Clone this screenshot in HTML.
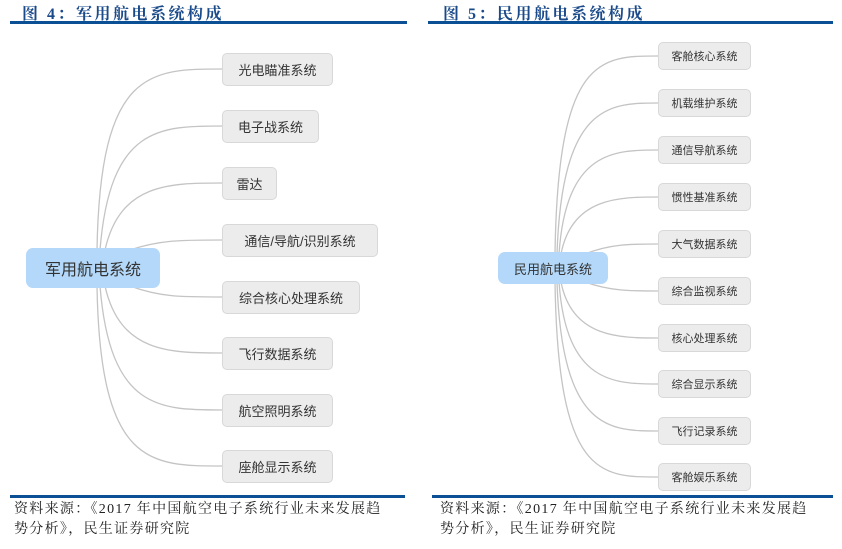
<!DOCTYPE html>
<html><head><meta charset="utf-8"><style>
body{margin:0;width:842px;height:549px;background:#fff;position:relative;overflow:hidden;font-family:"Liberation Sans","Noto Sans CJK SC",sans-serif}
.t{position:absolute;top:1px;font-size:16px;font-weight:bold;color:#1a4a8a;letter-spacing:2.5px;font-family:"Liberation Serif","Noto Serif CJK SC",serif}
.r{position:absolute;height:3px;background:#0b4f95}
.f{position:absolute;top:500px;font-size:14px;line-height:20px;color:#222;font-family:"Liberation Serif","Noto Serif CJK SC",serif;white-space:nowrap;letter-spacing:1.3px}
.b{position:absolute;background:#ececec;border:1px solid #d8d8d8;border-radius:5px;box-sizing:border-box;display:flex;align-items:center;justify-content:center;color:#333;white-space:nowrap}
.root{position:absolute;background:#b3d8f9;border-radius:7px;display:flex;align-items:center;justify-content:center;color:#333}
svg{position:absolute;left:0;top:0}
</style></head><body>
<div class="t" style="left:22px">图 4：军用航电系统构成</div>
<div class="t" style="left:443px">图 5：民用航电系统构成</div>
<div class="r" style="left:10px;width:397px;top:21px"></div>
<div class="r" style="left:428px;width:405px;top:21px"></div>
<div class="r" style="left:10px;width:395px;top:495px"></div>
<div class="r" style="left:432px;width:401px;top:495px"></div>
<div class="f" style="left:14px">资料来源：《2017 年中国航空电子系统行业未来发展趋<br>势分析》，民生证券研究院</div>
<div class="f" style="left:440px">资料来源：《2017 年中国航空电子系统行业未来发展趋<br>势分析》，民生证券研究院</div>
<svg width="842" height="549" fill="none" stroke="#c4c4c4" stroke-width="1.3">
<path d="M97 250 C100 69,150 69,222 69"/>
<path d="M100 250 C110 126,160 126,222 126"/>
<path d="M105 250 C120 183,170 183,222 183"/>
<path d="M130 250 C160 240,180 240,222 240"/>
<path d="M130 286 C160 297,180 297,222 297"/>
<path d="M105 286 C120 353,170 353,222 353"/>
<path d="M100 286 C110 410,160 410,222 410"/>
<path d="M97 286 C100 466,150 466,222 466"/>
<path d="M555 254 C558 56,600 56,658 56"/>
<path d="M557 254 C562 103,610 103,658 103"/>
<path d="M559 254 C566 150,615 150,658 150"/>
<path d="M561 254 C572 197,620 197,658 197"/>
<path d="M585 254 C610 244,630 244,658 244"/>
<path d="M585 282 C610 291,630 291,658 291"/>
<path d="M561 282 C572 338,620 338,658 338"/>
<path d="M559 282 C566 384,615 384,658 384"/>
<path d="M557 282 C562 431,610 431,658 431"/>
<path d="M555 282 C558 477,600 477,658 477"/>
</svg>
<div class="root" style="left:26px;top:248px;width:134px;height:40px;font-size:16px">军用航电系统</div>
<div class="b" style="left:222px;top:53px;width:111px;height:33px;font-size:13px">光电瞄准系统</div>
<div class="b" style="left:222px;top:110px;width:97px;height:33px;font-size:13px">电子战系统</div>
<div class="b" style="left:222px;top:167px;width:55px;height:33px;font-size:13px">雷达</div>
<div class="b" style="left:222px;top:224px;width:156px;height:33px;font-size:13px">通信/导航/识别系统</div>
<div class="b" style="left:222px;top:281px;width:138px;height:33px;font-size:13px">综合核心处理系统</div>
<div class="b" style="left:222px;top:337px;width:111px;height:33px;font-size:13px">飞行数据系统</div>
<div class="b" style="left:222px;top:394px;width:111px;height:33px;font-size:13px">航空照明系统</div>
<div class="b" style="left:222px;top:450px;width:111px;height:33px;font-size:13px">座舱显示系统</div>
<div class="root" style="left:498px;top:252px;width:110px;height:32px;font-size:13px">民用航电系统</div>
<div class="b" style="left:658px;top:42px;width:93px;height:28px;font-size:11px">客舱核心系统</div>
<div class="b" style="left:658px;top:89px;width:93px;height:28px;font-size:11px">机载维护系统</div>
<div class="b" style="left:658px;top:136px;width:93px;height:28px;font-size:11px">通信导航系统</div>
<div class="b" style="left:658px;top:183px;width:93px;height:28px;font-size:11px">惯性基准系统</div>
<div class="b" style="left:658px;top:230px;width:93px;height:28px;font-size:11px">大气数据系统</div>
<div class="b" style="left:658px;top:277px;width:93px;height:28px;font-size:11px">综合监视系统</div>
<div class="b" style="left:658px;top:324px;width:93px;height:28px;font-size:11px">核心处理系统</div>
<div class="b" style="left:658px;top:370px;width:93px;height:28px;font-size:11px">综合显示系统</div>
<div class="b" style="left:658px;top:417px;width:93px;height:28px;font-size:11px">飞行记录系统</div>
<div class="b" style="left:658px;top:463px;width:93px;height:28px;font-size:11px">客舱娱乐系统</div>
</body></html>
